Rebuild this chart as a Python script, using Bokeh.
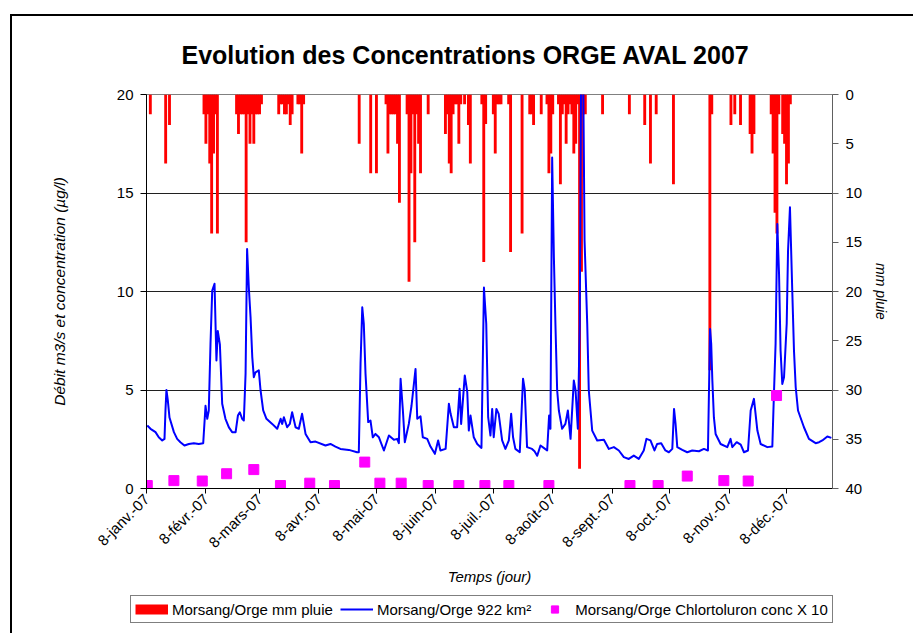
import math
from bokeh.plotting import figure
from bokeh.layouts import column
from bokeh.models import (Range1d, LinearAxis, FixedTicker, Legend, LegendItem,
                          ColumnDataSource, InlineStyleSheet)
from bokeh.embed import file_html
from bokeh.resources import INLINE

# ---------------- data (x = day of year 2007) ----------------
tick_days = [8, 39, 67, 98, 128, 159, 189, 220, 251, 281, 312, 342]
tick_labels = ["8-janv.-07", "8-févr.-07", "8-mars-07", "8-avr.-07", "8-mai-07",
               "8-juin-07", "8-juil.-07", "8-août-07", "8-sept.-07", "8-oct.-07",
               "8-nov.-07", "8-déc.-07"]

rain_day = [10, 18, 20,
            38, 39, 40, 41, 42, 43, 44, 45,
            55, 56, 57, 58, 59, 60, 61, 62, 63, 64, 65, 66, 67, 68,
            77, 78, 79, 80, 81, 82, 83, 84,
            87, 88, 89, 90,
            119, 125, 128,
            133, 134, 135, 136, 137, 138, 139, 140,
            144, 145, 146, 147, 148, 149, 150, 151,
            155,
            164, 165, 166, 167, 168, 169, 170, 171, 172, 174, 176, 177,
            183, 184, 185, 189, 190, 191, 192, 193, 197, 198,
            204, 208, 209, 210, 214,
            217, 218, 219, 220, 223, 224, 225, 226, 227, 228, 229, 230, 231, 232, 233,
            234, 235, 236, 237,
            246, 260, 268, 271, 274, 283, 302, 303, 313, 315, 318, 323, 324, 325,
            334, 335, 336, 337, 338, 340, 341, 342, 343, 344]
rain_mm = [2, 7, 3.1,
           2, 5, 2, 7, 14.1, 6, 2, 14.1,
           2, 4, 2, 2, 2, 15, 2, 5, 2, 5, 2, 2, 2, 1,
           2, 1, 1, 2, 2, 1, 3.1, 2,
           1, 1, 6, 1,
           5, 8, 8,
           1, 6, 2, 2, 2, 2, 5, 11,
           2, 19, 8, 2, 15, 2, 5, 8,
           2,
           4, 2, 7, 8, 2, 1, 1, 5, 1, 1, 3.1, 7,
           1, 17, 3, 2, 6, 1, 1, 1, 1, 16,
           14.1, 2, 2, 3.1, 2,
           1, 8, 6, 2, 1, 9.1, 2, 1, 5, 2, 1, 2, 6, 5, 1,
           38, 18, 2, 2,
           2, 2, 3.1, 7, 2, 9.1, 28, 2, 3.1, 2, 3.1, 4, 6, 4,
           2, 6, 12, 14.1, 2, 4, 5, 9.1, 7, 1]

flow_day = [8.4, 10.1, 12.7, 14.4, 16.2, 17.4, 17.9, 18.4, 19.1, 20.0, 22.3, 24.0, 25.7,
            27.8, 30.1, 32.7, 35.3, 37.6, 38.8, 39.7, 40.5, 41.4, 42.3, 43.5, 44.5, 45.2,
            46.3, 47.5, 49.2, 51.0, 52.7, 54.5, 55.7, 56.7, 57.9, 58.8, 59.7, 60.5, 61.4,
            62.3, 63.2, 64.0, 64.9, 66.6, 67.5, 68.9, 70.6, 73.6, 76.2, 78.0, 78.8, 79.7,
            81.4, 82.8, 84.0, 85.8, 87.5, 89.2, 91.0, 93.6, 96.2, 101.4, 104.0, 106.6,
            109.2, 113.6, 117.9, 118.8, 119.7, 120.6, 121.4, 122.3, 123.7, 124.9, 126.1,
            127.5, 129.3, 131.9, 134.5, 137.1, 138.8, 139.7, 140.6, 141.8, 142.8, 144.9,
            146.3, 148.4, 149.3, 151.0, 152.2, 154.5, 156.2, 158.5, 160.2, 161.4, 164.1,
            165.8, 166.7, 168.4, 170.1, 171.4, 172.2, 174.1, 175.4, 176.2, 177.1, 178.8,
            180.6, 182.8, 184.1, 185.3, 186.3, 187.5, 188.4, 189.2, 190.6, 191.8, 193.6,
            195.3, 197.1, 198.3, 199.3, 200.5, 202.8, 204.5, 205.4, 206.6, 209.2, 210.5,
            211.9, 213.6, 215.3, 217.1, 218.1, 218.8, 219.7, 220.6, 221.4, 222.3, 223.2,
            224.9, 226.6, 227.9, 229.3, 231.0, 231.9, 233.1, 234.1, 234.8, 235.9, 236.6,
            238.0, 238.8, 240.6, 243.2, 246.7, 249.3, 251.9, 254.5, 257.1, 259.7, 262.3,
            264.9, 267.5, 268.9, 271.0, 273.1, 274.5, 276.6, 278.8, 280.6, 282.4, 283.3,
            284.1, 285.0, 287.6, 290.2, 292.8, 296.3, 298.9, 301.0, 302.1, 302.7, 303.3,
            304.1, 305.0, 307.6, 311.1, 312.8, 313.7, 316.0, 318.1, 319.8, 321.9, 323.3,
            325.0, 326.8, 328.5, 332.0, 334.6, 335.5, 336.3, 337.2, 338.1, 338.9, 339.8,
            340.7, 342.1, 342.8, 343.8, 345.0, 345.9, 346.8, 348.0, 351.1, 353.7, 357.2,
            359.0, 360.7, 363.3, 365.4]
flow_val = [3.2, 3.03, 2.86, 2.6, 2.44, 2.52, 3.96, 5.0, 4.5, 3.6, 2.86, 2.52, 2.35,
            2.18, 2.26, 2.3, 2.26, 2.3, 4.2, 3.54, 3.96, 7.34, 10.05, 10.39, 6.5, 8.0,
            7.3, 4.3, 3.54, 3.1, 2.86, 2.86, 3.7, 3.87, 3.54, 3.45, 5.82, 12.16, 10.2,
            8.7, 6.67, 5.65, 5.9, 6.0, 5.0, 3.96, 3.54, 3.28, 3.03, 3.54, 3.28, 3.62,
            3.11, 3.28, 3.87, 3.11, 3.03, 3.79, 2.77, 2.35, 2.38, 2.18, 2.26, 2.13,
            2.01, 1.96, 1.84, 1.84, 6.33, 9.2, 8.36, 5.82, 3.37, 3.45, 2.6,
            2.77, 2.6, 1.93, 2.69, 2.47, 2.52, 2.3, 5.57, 3.96, 2.35, 3.28,
            4.2, 6.07, 3.54, 3.66, 2.6, 2.52, 2.13, 1.76, 2.44, 1.93, 2.01,
            4.3, 3.79, 3.11, 3.11, 5.06, 3.28, 5.74, 4.89, 2.94, 3.7, 2.6,
            2.26, 2.06, 10.2, 8.36, 3.62, 2.69, 4.04, 2.6, 4.04, 3.79, 2.44,
            2.01, 2.44, 3.79, 2.6, 2.01, 1.84, 5.57, 5.0, 2.1, 2.01, 1.89,
            1.66, 2.18, 2.06, 1.93, 3.7, 3.03, 16.8, 11.74, 8.36, 5.0, 3.96,
            3.03, 3.28, 3.96, 2.52, 5.48, 5.0, 3.03, 8.36, 21.0, 21.0, 12.6,
            8.36, 5.0, 2.94, 2.44, 2.47, 2.01, 2.1, 1.93, 1.59, 1.5, 1.67,
            1.5, 1.93, 2.52, 2.44, 1.93, 2.26, 2.3, 1.93, 1.84, 2.01, 4.04,
            3.28, 2.1, 1.96, 1.84, 1.93, 1.89, 2.01, 1.93, 8.1, 7.34, 5.48,
            3.62, 2.77, 2.26, 2.1, 2.52, 2.1, 2.35, 2.23, 1.84, 1.93, 3.96,
            4.55, 2.94, 2.26, 2.1, 2.13, 5.0, 7.34, 13.43, 10.89, 7.0, 5.31,
            5.65, 8.36, 12.08, 14.28, 10.05, 7.0, 5.14, 3.96, 3.11, 2.52, 2.3,
            2.35, 2.44, 2.64, 2.57]

chl_day = [8.4, 22.3, 37.1, 49.8, 64.0, 77.9, 93.2, 106.1, 121.9, 129.8, 140.9, 155.0,
           171.0, 184.6, 197.1, 218.0, 260.3, 275.0, 290.2, 309.3, 322.0, 336.8]
chl_val = [0.15, 0.4, 0.38, 0.75, 0.96, 0.15, 0.27, 0.15, 1.34, 0.27, 0.27, 0.15,
           0.15, 0.15, 0.15, 0.15, 0.15, 0.15, 0.63, 0.4, 0.38, 4.72]

series_names = ["Morsang/Orge mm pluie", "Morsang/Orge 922 km²",
                "Morsang/Orge Chlortoluron conc X 10"]

# ---------------- main figure ----------------
FONT = "Liberation Sans"
W = 913
H_MAIN = 595
H_LEG = 38
RED, BLUE, MAGENTA = "#FF0000", "#0000FF", "#FF00FF"

p = figure(width=W, height=H_MAIN, output_backend="svg", toolbar_location=None,
           x_range=Range1d(8, 366), y_range=Range1d(0, 20),
           min_border_left=146, min_border_right=W - 832, min_border_top=94,
           min_border_bottom=H_MAIN - 488, background_fill_color="white",
           border_fill_color="white")
p.frame_align = False
p.extra_y_ranges = {"rain": Range1d(start=40, end=0)}

p.title.text = "Evolution des Concentrations ORGE AVAL 2007"
p.title.align = "left"
p.title.offset = 35
p.title.text_font = FONT
p.title.text_font_size = "25px"
p.title.text_font_style = "bold"
p.title.text_color = "black"
p.title.standoff = 51

p.outline_line_color = "#808080"
p.outline_line_width = 1

p.xgrid.visible = False
p.ygrid.ticker = FixedTicker(ticks=[0, 5, 10, 15, 20])
p.ygrid.grid_line_color = "#202020"
p.ygrid.grid_line_width = 1

# bottom axis
xa = p.xaxis[0]
xa.ticker = FixedTicker(ticks=tick_days, minor_ticks=[])
xa.major_label_overrides = {d: l for d, l in zip(tick_days, tick_labels)}
xa.major_label_orientation = math.pi / 4
xa.major_label_text_font = FONT
xa.major_label_text_font_size = "15px"
xa.major_label_text_color = "black"
xa.major_tick_out = 5
xa.major_tick_in = 0
xa.minor_tick_out = 0
xa.axis_line_color = "black"
xa.major_tick_line_color = "black"
xa.major_label_standoff = 3
xa.axis_label = "Temps (jour)"
xa.axis_label_text_font = FONT
xa.axis_label_text_font_size = "15px"
xa.axis_label_text_font_style = "italic"
xa.axis_label_text_color = "black"
xa.axis_label_standoff = 8

# left axis
ya = p.yaxis[0]
ya.ticker = FixedTicker(ticks=[0, 5, 10, 15, 20], minor_ticks=[])
ya.major_label_text_font = FONT
ya.major_label_text_font_size = "15px"
ya.major_label_text_color = "black"
ya.major_tick_out = 6
ya.major_tick_in = 0
ya.minor_tick_out = 0
ya.axis_line_color = "black"
ya.major_tick_line_color = "black"
ya.major_label_standoff = 7
ya.axis_label = "Débit m3/s et concentration (µg/l)"
ya.axis_label_text_font = FONT
ya.axis_label_text_font_size = "15.5px"
ya.axis_label_text_font_style = "italic"
ya.axis_label_text_color = "black"
ya.axis_label_standoff = 46

# right axis
ra = LinearAxis(y_range_name="rain",
                ticker=FixedTicker(ticks=[0, 5, 10, 15, 20, 25, 30, 35, 40], minor_ticks=[]))
ra.major_label_text_font = FONT
ra.major_label_text_font_size = "15px"
ra.major_label_text_color = "black"
ra.major_tick_out = 6
ra.major_tick_in = 0
ra.minor_tick_out = 0
ra.axis_line_color = "#606060"
ra.major_tick_line_color = "#606060"
ra.major_label_standoff = 7
ra.axis_label = "mm pluie"
ra.axis_label_text_font = FONT
ra.axis_label_text_font_size = "14px"
ra.axis_label_text_font_style = "italic"
ra.axis_label_text_color = "black"
ra.axis_label_standoff = 8
p.add_layout(ra, "right")

rain_src = ColumnDataSource(dict(x=rain_day, mm=rain_mm))
p.vbar(x="x", top=0, bottom="mm", width=1.5, source=rain_src, y_range_name="rain",
       fill_color=RED, line_color=None)

flow_src = ColumnDataSource(dict(x=flow_day, y=flow_val))
p.line(x="x", y="y", source=flow_src, line_color=BLUE, line_width=2, line_join="round")

chl_src = ColumnDataSource(dict(x=chl_day, y=chl_val))
p.scatter(x="x", y="y", source=chl_src, marker="square", size=10,
          fill_color=MAGENTA, line_color=MAGENTA)

# ---------------- legend strip (below the chart) ----------------
lg = figure(width=W, height=H_LEG, output_backend="svg", toolbar_location=None,
            x_range=Range1d(0, 1), y_range=Range1d(0, 1),
            x_axis_type=None, y_axis_type=None,
            min_border_left=0, min_border_right=0, min_border_top=0, min_border_bottom=0,
            outline_line_color=None, background_fill_color="white",
            border_fill_color="white")
lg.frame_align = False
lg.grid.visible = False
# key swatches only (their single point lies outside the strip's visible range)
k_rain = lg.line(x=[-5, -4], y=[-5, -5], line_color=RED, line_width=10)
k_flow = lg.line(x=[-5, -4], y=[-5, -5], line_color=BLUE, line_width=2)
k_chl = lg.scatter(x=[-5], y=[-5], marker="square", size=10,
                   fill_color=MAGENTA, line_color=MAGENTA)

legend = Legend(items=[LegendItem(label=series_names[0], renderers=[k_rain]),
                       LegendItem(label=series_names[1], renderers=[k_flow]),
                       LegendItem(label=series_names[2], renderers=[k_chl])],
                location=(130, 10), orientation="horizontal",
                glyph_width=33, glyph_height=18, label_height=18,
                label_standoff=4, spacing=7, padding=4, margin=0,
                label_text_font=FONT, label_text_font_size="15px",
                label_text_color="black",
                border_line_color="black", border_line_width=1,
                background_fill_color="white", background_fill_alpha=1)
lg.add_layout(legend)

layout = column(p, lg, spacing=0)

# outer chart frame (left and top edges visible in the window)
layout.stylesheets = [InlineStyleSheet(css="""
:host::after {
  content: ""; position: absolute; left: 10px; top: 14px; right: 0px; bottom: 0px;
  border-left: 2px solid black; border-top: 2px solid black;
  pointer-events: none; z-index: 100;
}
""")]

open("out.html", "w").write(file_html(layout, INLINE))
